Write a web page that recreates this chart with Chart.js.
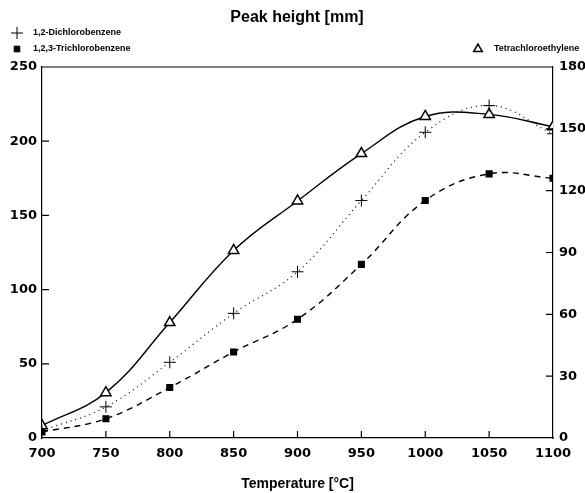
<!DOCTYPE html>
<html>
<head>
<meta charset="utf-8">
<script src="https://cdn.jsdelivr.net/npm/chart.js@4"></script>
<style>
  html, body { margin: 0; padding: 0; background: #fff; }
  #wrap { width: 585px; height: 493px; }
</style>
</head>
<body>
<div id="wrap"><canvas id="grafico"></canvas></div>
<script>
// temperatures [°C]
const temperaturas = [700, 750, 800, 850, 900, 950, 1000, 1050, 1100];
// peak height, left axis
const dicloro = [5, 21, 51, 84, 112, 160, 206, 224, 205];
const tricloro = [4, 13, 34, 58, 80, 117, 160, 178, 175];
// peak height, right axis
const tetracloro = [6, 22, 56, 91, 115, 138, 156, 157, 151];

const tickFont = { family: 'DejaVu Sans', weight: 'bold', size: 13 };

function puntos(vals) {
    return vals.map((v, i) => ({ x: temperaturas[i], y: v }));
}

// little tick marks pointing into the plot, plus the top frame line
const marcas = {
    id: 'marcas',
    afterDraw(chart) {
        const c = chart.ctx, a = chart.chartArea;
        const sx = chart.scales.x, sy = chart.scales.y, sy1 = chart.scales.y1;
        c.save();
        c.strokeStyle = '#000';
        c.lineWidth = 1.2;
        c.beginPath();
        c.moveTo(a.left, a.top); c.lineTo(a.right, a.top);
        sx.ticks.forEach(t => {
            if (t.value <= 700 || t.value >= 1100) return;
            const px = sx.getPixelForValue(t.value);
            c.moveTo(px, a.bottom); c.lineTo(px, a.bottom - 7);
        });
        sy.ticks.forEach(t => {
            if (t.value <= 0 || t.value >= 250) return;
            const py = sy.getPixelForValue(t.value);
            c.moveTo(a.left, py); c.lineTo(a.left + 7, py);
        });
        sy1.ticks.forEach(t => {
            if (t.value <= 0 || t.value >= 180) return;
            const py = sy1.getPixelForValue(t.value);
            c.moveTo(a.right, py); c.lineTo(a.right - 7, py);
        });
        c.stroke();

        // titulo y leyenda
        c.fillStyle = '#000';
        c.textBaseline = 'middle';
        c.textAlign = 'center';
        c.font = 'bold 16px "Liberation Sans"';
        c.fillText('Peak height [mm]', 297, 18);

        c.textAlign = 'left';
        c.font = 'bold 9px "Liberation Sans"';
        const items = [
            { txt: '1,2-Dichlorobenzene', x: 17, y: 33, st: { pointStyle: 'cross', radius: 6, borderWidth: 1 }, fill: '#000' },
            { txt: '1,2,3-Trichlorobenzene', x: 17, y: 49, st: { pointStyle: 'rect', radius: 4, borderWidth: 1 }, fill: '#000' },
            { txt: 'Tetrachloroethylene', x: 478, y: 49, st: { pointStyle: 'triangle', radius: 5, borderWidth: 1.5 }, fill: '#fff' }
        ];
        items.forEach(it => {
            c.fillStyle = it.fill;
            c.strokeStyle = '#000';
            c.lineWidth = it.st.borderWidth;
            Chart.helpers.drawPoint(c, { pointStyle: it.st.pointStyle, radius: it.st.radius, rotation: 0, borderWidth: it.st.borderWidth }, it.x, it.y);
            c.fillStyle = '#000';
            c.fillText(it.txt, it.x + 16, it.y);
        });
        c.restore();
    }
};

const ctx = document.getElementById('grafico').getContext('2d');
const grafico = new Chart(ctx, {
    type: 'line',
    data: {
        datasets: [{
            label: '1,2-Dichlorobenzene',
            data: puntos(dicloro),
            yAxisID: 'y',
            borderColor: '#000',
            borderWidth: 1.2,
            borderDash: [1, 4],
            tension: 0.4,
            pointStyle: 'cross',
            pointRadius: 6,
            pointBorderWidth: 1,
            pointBorderColor: '#000'
        }, {
            label: '1,2,3-Trichlorobenzene',
            data: puntos(tricloro),
            yAxisID: 'y',
            borderColor: '#000',
            borderWidth: 1.4,
            borderDash: [6, 5],
            tension: 0.4,
            pointStyle: 'rect',
            pointRadius: 4,
            pointBackgroundColor: '#000',
            pointBorderColor: '#000'
        }, {
            label: 'Tetrachloroethylene',
            data: puntos(tetracloro),
            yAxisID: 'y1',
            borderColor: '#000',
            borderWidth: 1.4,
            tension: 0.4,
            pointStyle: 'triangle',
            pointRadius: 6,
            pointBorderWidth: 1.5,
            pointBackgroundColor: '#fff',
            pointBorderColor: '#000'
        }]
    },
    options: {
        responsive: true,
        maintainAspectRatio: false,
        animation: false,
        layout: { padding: { top: 67, left: 0, right: 0, bottom: 0 } },
        plugins: { legend: { display: false }, title: { display: false }, tooltip: { enabled: false } },
        scales: {
            x: {
                type: 'linear',
                min: 700, max: 1100,
                afterFit: s => { s.height = 55; },
                ticks: { stepSize: 50, color: '#000', font: tickFont, padding: 8, maxRotation: 0, callback: v => String(v) },
                grid: { drawOnChartArea: false, drawTicks: false },
                border: { color: '#000', width: 1.2 },
                title: { display: true, text: 'Temperature [°C]', color: '#000', font: { family: 'Liberation Sans', weight: 'bold', size: 14 }, padding: { top: 10, bottom: 0 } }
            },
            y: {
                position: 'left',
                min: 0, max: 250,
                afterFit: s => { s.width = 42; },
                ticks: { stepSize: 50, color: '#000', font: tickFont, padding: 5 },
                grid: { drawOnChartArea: false, drawTicks: false },
                border: { color: '#000', width: 1.2 }
            },
            y1: {
                position: 'right',
                min: 0, max: 180,
                afterFit: s => { s.width = 32; },
                ticks: { stepSize: 30, color: '#000', font: tickFont, padding: 6 },
                grid: { drawOnChartArea: false, drawTicks: false },
                border: { color: '#000', width: 1.2 }
            }
        }
    },
    plugins: [marcas]
});
</script>
</body>
</html>
